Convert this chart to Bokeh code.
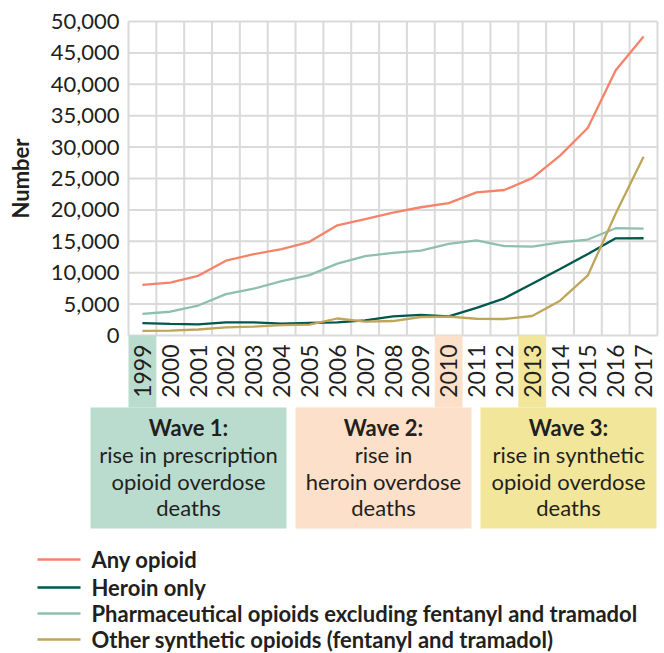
from math import pi
from bokeh.plotting import figure
from bokeh.models import Range1d, LinearAxis, FixedTicker, NumeralTickFormatter
from bokeh.core.properties import value
from bokeh.embed import file_html
from bokeh.resources import INLINE

# ---------------- data ----------------
years = list(range(1999, 2018))
any_opioid = [8048, 8407, 9496, 11920, 12940, 13756, 14918, 17545, 18516, 19582,
              20422, 21089, 22784, 23166, 25052, 28647, 33091, 42249, 47600]
heroin_only = [1960, 1842, 1779, 2089, 2080, 1878, 2009, 2088, 2399, 3041,
               3278, 3036, 4397, 5925, 8257, 10574, 12989, 15469, 15482]
pharma_excl = [3442, 3785, 4770, 6579, 7456, 8665, 9612, 11448, 12638, 13149,
               13524, 14583, 15140, 14240, 14145, 14838, 15281, 17087, 17029]
other_synth = [730, 782, 957, 1295, 1400, 1664, 1742, 2707, 2213, 2306,
               2946, 3007, 2666, 2628, 3105, 5544, 9580, 19413, 28466]
series_names = ["Any opioid", "Heroin only",
                "Pharmaceutical opioids excluding fentanyl and tramadol",
                "Other synthetic opioids (fentanyl and tramadol)"]
series_values = [any_opioid, heroin_only, pharma_excl, other_synth]
series_colors = ["#f4836a", "#00574b", "#8fbfae", "#bfa55a"]
y_ticks = list(range(0, 50001, 5000))
highlight_years = [1999, 2010, 2013]
wave_titles = ["Wave 1:", "Wave 2:", "Wave 3:"]
wave_texts = [["rise in prescription", "opioid overdose", "deaths"],
              ["rise in", "heroin overdose", "deaths"],
              ["rise in synthetic", "opioid overdose", "deaths"]]
wave_colors = ["#b9dccf", "#fde0c9", "#f2e69a"]

# ---------------- layout (page pixels) ----------------
W, H = 664, 653
OX, OY = 0, 0
FL, FR, FT, FB = 128, 657, 21, 335
X0, X1 = years[0] - 0.5, years[-1] + 0.5
Y0, Y1 = 0, 50000
kx = (FR - FL) / (X1 - X0)
ky = (FB - FT) / (Y1 - Y0)

def dx(px):
    return X0 + (px - FL) / kx

def dy(py):
    return Y0 + (FB - py) / ky

FONT = "Lato"
TXT = "#231f20"
GRID = "#dadada"

p = figure(width=W, height=H, x_range=Range1d(dx(OX), dx(OX + W)),
           y_range=Range1d(dy(OY + H), dy(OY)), output_backend="svg",
           toolbar_location=None, x_axis_type=None, y_axis_type=None,
           min_border=0, min_border_left=0, min_border_right=0,
           min_border_top=0, min_border_bottom=0)
p.outline_line_color = None
p.background_fill_color = "white"
p.border_fill_color = "white"

# grid lines (box)
bounds_x = [y - 0.5 for y in years] + [years[-1] + 0.5]
p.segment(x0=bounds_x, x1=bounds_x, y0=[Y0] * len(bounds_x), y1=[Y1] * len(bounds_x),
          line_color=GRID, line_width=2)
p.segment(x0=[X0] * len(y_ticks), x1=[X1] * len(y_ticks), y0=y_ticks, y1=y_ticks,
          line_color=GRID, line_width=2)

# highlighted year bands below axis
p.quad(left=[y - 0.5 for y in highlight_years], right=[y + 0.5 for y in highlight_years],
       top=[Y0] * 3, bottom=[dy(407)] * 3, fill_color=wave_colors, line_color=None)

# series
for vals, col in zip(series_values, series_colors):
    p.line(years, vals, line_color=col, line_width=2.3)

# axes
xaxis = LinearAxis(fixed_location=Y0, bounds=(X0, X1), ticker=FixedTicker(ticks=years),
                   major_label_orientation=pi / 2, axis_line_color=None,
                   major_tick_line_color=None, minor_tick_line_color=None,
                   major_tick_in=0, major_tick_out=0,
                   major_label_text_font=FONT, major_label_text_font_size="23px",
                   major_label_text_color=TXT, major_label_standoff=9)
p.add_layout(xaxis, "below")

yaxis = LinearAxis(fixed_location=X0, bounds=(Y0, Y1), ticker=FixedTicker(ticks=y_ticks),
                   formatter=NumeralTickFormatter(format="0,0"),
                   axis_line_color=None, major_tick_line_color=None,
                   minor_tick_line_color=None, major_tick_in=0, major_tick_out=0,
                   major_label_text_font=FONT, major_label_text_font_size="22px",
                   major_label_text_color=TXT, major_label_standoff=9,
                   axis_label="Number", axis_label_text_font=FONT,
                   axis_label_text_font_size="22px", axis_label_text_font_style="bold",
                   axis_label_text_color=TXT, axis_label_standoff=14)
p.add_layout(yaxis, "left")

# wave boxes
box_px = [(90, 286), (295, 471), (480, 656)]
p.quad(left=[dx(a) for a, b in box_px], right=[dx(b) for a, b in box_px],
       top=[dy(407)] * 3, bottom=[dy(528)] * 3, fill_color=wave_colors, line_color=None)
cx = [dx((a + b) / 2) for a, b in box_px]
p.text(x=cx, y=[dy(427)] * 3, text=wave_titles, text_font=value(FONT),
       text_font_size="22px", text_font_style="bold", text_color=TXT,
       text_align="center", text_baseline="middle")
for i, py in enumerate([454, 481, 507]):
    p.text(x=cx, y=[dy(py)] * 3, text=[t[i] for t in wave_texts], text_font=value(FONT),
           text_font_size="22px", text_color=TXT, text_align="center",
           text_baseline="middle")

# legend
rows = [559, 587, 613, 639]
p.segment(x0=[dx(37)] * 4, x1=[dx(80)] * 4, y0=[dy(r) for r in rows],
          y1=[dy(r) for r in rows], line_color=series_colors, line_width=2.5)
p.text(x=[dx(91)] * 4, y=[dy(r) for r in rows], text=series_names, text_font=value(FONT),
       text_font_size="22px", text_font_style="bold", text_color=TXT,
       text_align="left", text_baseline="middle")

open("out.html", "w").write(file_html(p, INLINE))
